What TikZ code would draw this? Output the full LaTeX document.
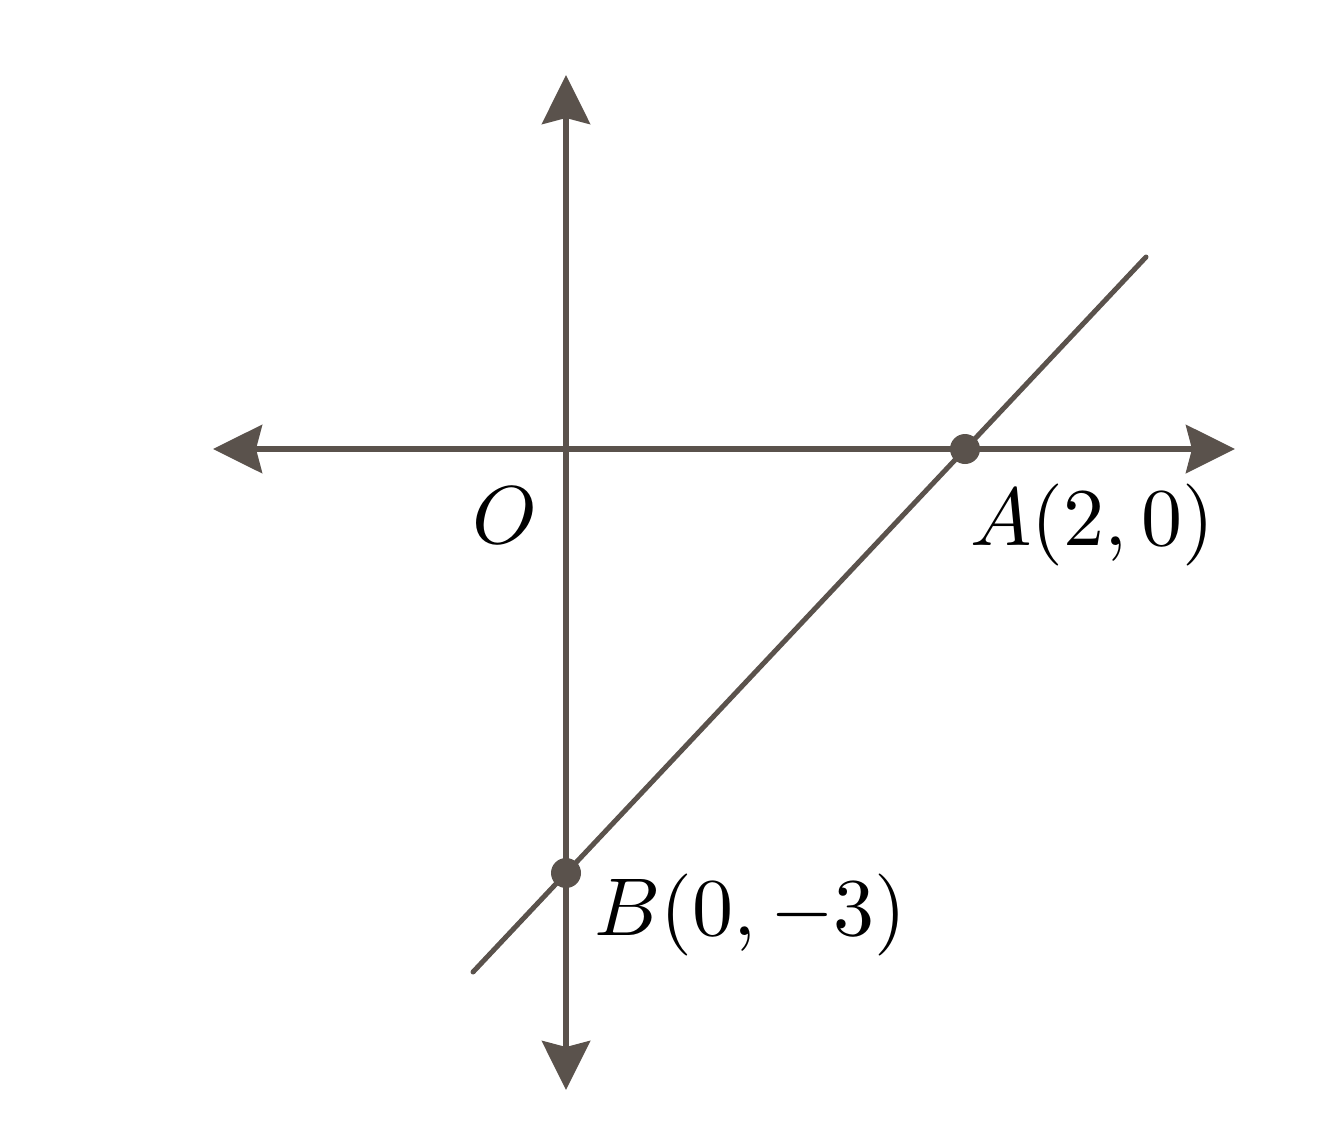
\documentclass[tikz,border=0pt]{standalone}
\usepackage{graphicx}
\usetikzlibrary{arrows.meta}
\definecolor{ink}{RGB}{90,82,76}
\newcommand{\biglab}[1]{\scalebox{4.1}{#1}}
\begin{document}
\begin{tikzpicture}[x=0.5pt,y=-0.5pt,
  axis/.style={draw=ink,line width=3pt,-{Stealth[length=24.5pt,width=24pt,inset=3pt,fill=ink]}},
  graphline/.style={draw=ink,line width=2.5pt,line cap=round},
  ptdot/.style={circle,fill=ink,inner sep=0pt,minimum size=15pt},
  lab/.style={inner sep=0pt,text=black}]
\useasboundingbox (0,0) rectangle (1342,1125);
\coordinate (O) at (566,449);
\coordinate (xl) at (213,449);
\coordinate (xr) at (1235,449);
\coordinate (yt) at (566,75);
\coordinate (yb) at (566,1090);
\coordinate (l1) at (473,972);
\coordinate (l2) at (1146,257);
\draw[axis] (O) -- (xr);
\draw[axis] (O) -- (xl);
\draw[axis] (O) -- (yt);
\draw[axis] (O) -- (yb);
\draw[graphline] (l1) -- (l2);
\node[ptdot] (A) at (965,449) {};
\node[ptdot] (B) at (566,873) {};
\node[lab,anchor=base west] (Olab) at (472,543) {\biglab{$O$}};
\node[lab,anchor=base west] (Alab) at (970,545) {\biglab{$A(2,0)$}};
\node[lab,anchor=base west] (Blab) at (594,935) {\biglab{$B(0,-3)$}};
\end{tikzpicture}
\end{document}
